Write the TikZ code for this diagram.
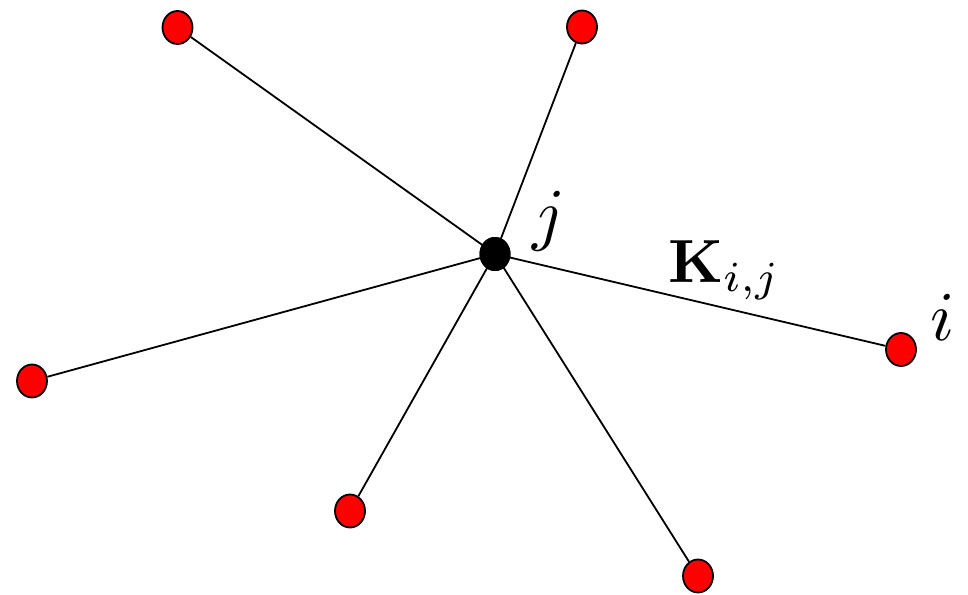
\documentclass[tikz,border=0pt]{standalone}
\usepackage{graphicx}
\usepackage{amsmath}
\usetikzlibrary{shapes.geometric}
\begin{document}
\begin{tikzpicture}[x=1pt,y=-1pt,
  leaf/.style={ellipse,draw=black,fill=red,line width=1.8pt,minimum width=30pt,minimum height=33pt,inner sep=0pt},
  hub/.style={ellipse,fill=black,minimum width=31pt,minimum height=34pt,inner sep=0pt},
  edge/.style={line width=1.8pt}]
\useasboundingbox (0,0) rectangle (968,594);
\node[hub] (c) at (495,254) {};
\node[leaf] (n1) at (177.5,27.5) {};
\node[leaf] (n2) at (582,27) {};
\node[leaf] (n3) at (32,381) {};
\node[leaf] (n4) at (901,349.5) {};
\node[leaf] (n5) at (350,511) {};
\node[leaf] (n6) at (698,576) {};
\foreach \n in {n1,n2,n3,n4,n5,n6} \draw[edge] (c.center) -- (\n);
\node[hub] at (c) {};
\node[anchor=base,inner sep=0pt] (lj) at (549,237) {\scalebox{7}{$j$}};
\node[anchor=base,inner sep=0pt] (li) at (943,340) {\scalebox{7}{$i$}};
\node[anchor=base west,inner sep=0pt] (lk) at (668,282) {\scalebox{6.1}{$\mathbf{K}_{i,j}$}};
\end{tikzpicture}
\end{document}
